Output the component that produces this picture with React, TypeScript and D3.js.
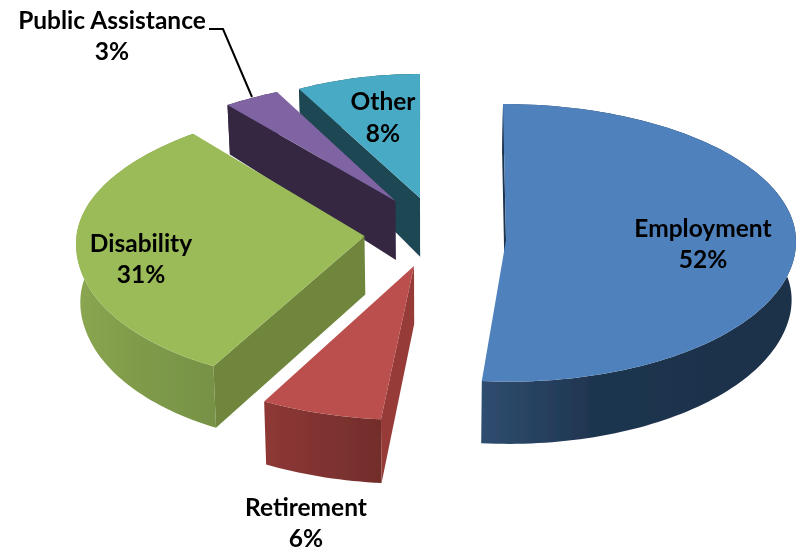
import React from "react";
import * as d3 from "d3";

const categories = ["Employment", "Retirement", "Disability", "Public Assistance", "Other"];
const percentLabels = ["52%", "6%", "31%", "3%", "8%"];
const values = [51.5, 6.4, 31.2, 3.0, 7.9];
const topColors = ["#4f81bd", "#bb4f4d", "#9bbb59", "#8064a2", "#4aaac5"];
const faceColors = ["#1f344f", "#963b39", "#6f863e", "#342843", "#1f4652"];
const wallStops = [
  ["#2f4d70", "#1f3550", "#1e3149"],
  ["#8e3836", "#803231", "#722d2b"],
  ["#8aa650", "#7e9a4a", "#779245"],
  ["#342843", "#342843", "#342843"],
  ["#1f4652", "#1f4652", "#1f4652"],
];

// Per-slice projection: exploded apex, radii, and perspective shear.
const apexX = [506, 414, 364.5, 395.5, 420];
const apexY = [240, 266, 236, 201, 198];
const radiusX = [290, 307, 288, 299, 254];
const radiusBack = [136, 150, 132, 124, 124];
const radiusFront = [141.6, 154, 148, 124, 124];
const shear = [0.022, -0.027, -0.107, -0.22, 0];
const wallRange = [[482, 797], [264, 383], [76, 216], [0, 1], [0, 1]];

const depth = d3.scaleLinear().domain([100, 200, 270, 400]).range([49, 59, 58, 63]);
const vanishX = 430;
const drawOrder = [4, 3, 0, 2, 1];

type P = [number, number];

function topPoint(i: number, a: number): P {
  const dy = -Math.cos(a) * (Math.cos(a) > 0 ? radiusBack[i] : radiusFront[i]);
  return [apexX[i] + radiusX[i] * Math.sin(a) + shear[i] * dy, apexY[i] + dy];
}
function lower([x, y]: P): P {
  return [x + (vanishX - x) * 0.012, y + depth(y)];
}

const line = d3.line<P>();
const closed = (pts: P[]) => line(pts) + "Z";

export default function App() {
  const arcs = d3.pie<number>().sort(null).startAngle(0).endAngle(2 * Math.PI)(values);
  const sampled = (i: number) => {
    const { startAngle, endAngle } = arcs[i];
    const n = Math.max(8, Math.ceil((endAngle - startAngle) * 40));
    return d3.range(n + 1).map((k) => topPoint(i, startAngle + ((endAngle - startAngle) * k) / n));
  };
  const apex = (i: number): P => [apexX[i], apexY[i]];

  return (
    <svg
      width={798}
      height={550}
      style={{ position: "fixed", left: 0, top: 0, background: "#fff", fontFamily: "Lato, Carlito, sans-serif" }}
    >
      <defs>
        {categories.map((c, i) => (
          <linearGradient
            key={c}
            id={`wall${i}`}
            gradientUnits="userSpaceOnUse"
            x1={wallRange[i][0]}
            x2={wallRange[i][1]}
            y1={0}
            y2={0}
          >
            <stop offset="0" stopColor={wallStops[i][0]} />
            <stop offset={i === 0 ? "0.35" : "0.5"} stopColor={wallStops[i][1]} />
            <stop offset="1" stopColor={wallStops[i][2]} />
          </linearGradient>
        ))}
        <filter id="soft" x="-5%" y="-5%" width="110%" height="110%">
          <feGaussianBlur stdDeviation="0.5" />
        </filter>
      </defs>
      <g filter="url(#soft)">
        {drawOrder.map((i) => {
          const rim = sampled(i);
          const a = apex(i);
          const first = rim[0];
          return (
            <g key={categories[i]}>
              <path d={closed([...rim, ...rim.map(lower).reverse()])} fill={`url(#wall${i})`} />
              <path d={closed([a, first, lower(first), lower(a)])} fill={faceColors[i]} />
              <path d={closed([a, ...rim])} fill={topColors[i]} />
            </g>
          );
        })}

        <path d="M209,29H223L252,97" fill="none" stroke="#000" strokeWidth={2} />

        <g fontWeight={700} fontSize={24.5} textAnchor="middle" fill="#000">
          <text x={703} y={237}>{categories[0]}</text>
          <text x={703} y={268}>{percentLabels[0]}</text>
          <text x={306} y={516}>{categories[1]}</text>
          <text x={306} y={547}>{percentLabels[1]}</text>
          <text x={141} y={252}>{categories[2]}</text>
          <text x={141} y={283}>{percentLabels[2]}</text>
          <text x={112} y={29}>{categories[3]}</text>
          <text x={112} y={60}>{percentLabels[3]}</text>
          <text x={383} y={110}>{categories[4]}</text>
          <text x={383} y={142}>{percentLabels[4]}</text>
        </g>
      </g>
    </svg>
  );
}
